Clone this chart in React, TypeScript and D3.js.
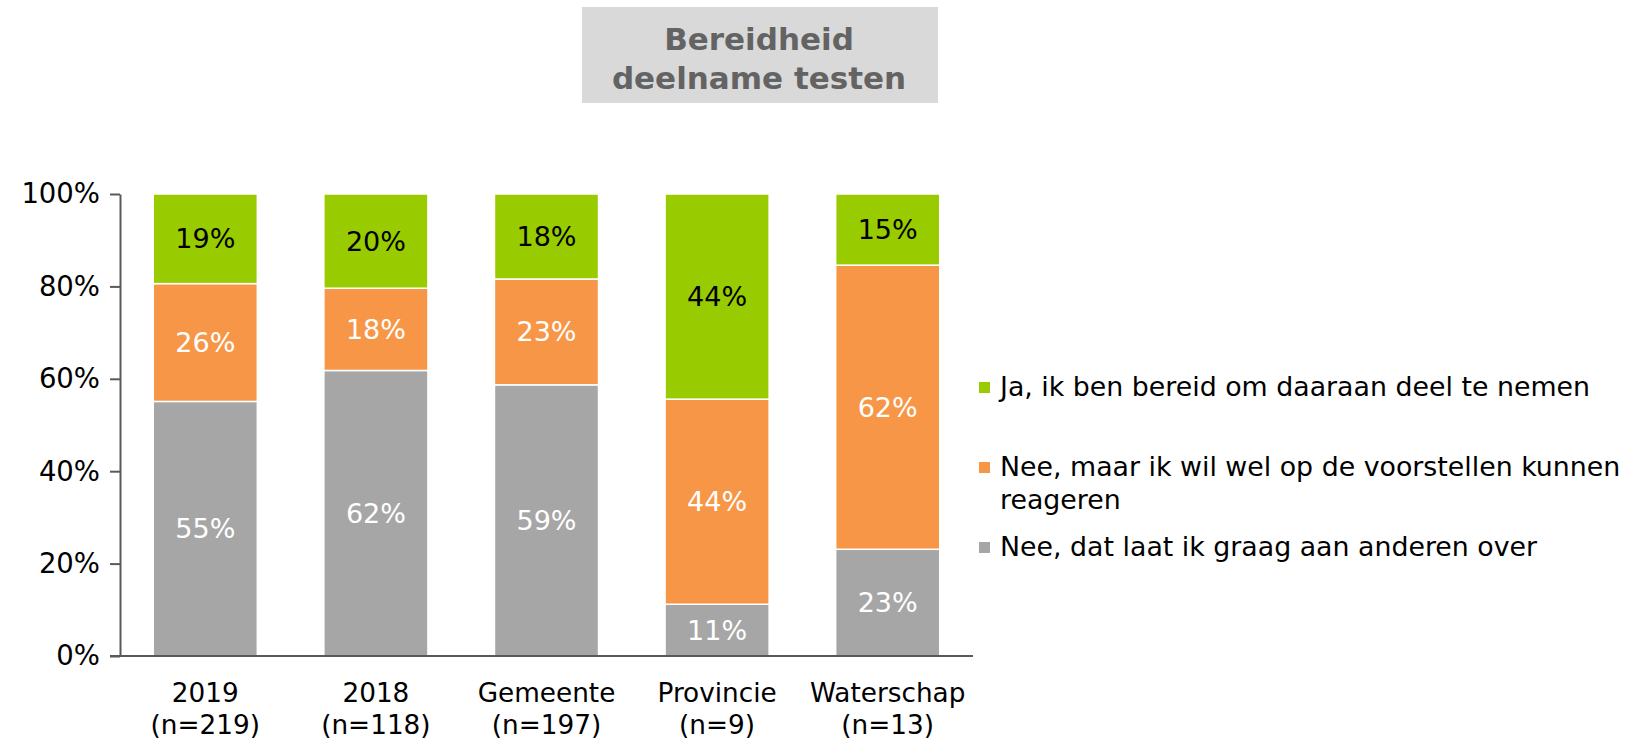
import { useRef, useEffect } from "react";
import * as d3 from "d3";

// chart data
const categories = ["2019", "2018", "Gemeente", "Provincie", "Waterschap"];
const sampleSizes = ["(n=219)", "(n=118)", "(n=197)", "(n=9)", "(n=13)"];
const notWilling = [55.1, 61.8, 58.7, 11.2, 23.1];
const wantToReact = [25.5, 17.8, 22.9, 44.4, 61.5];
const willing = [19.4, 20.4, 18.4, 44.4, 15.4];
const yTicks = [0, 20, 40, 60, 80, 100];
const seriesNames = [
  ["Ja, ik ben bereid om daaraan deel te nemen"],
  ["Nee, maar ik wil wel op de voorstellen kunnen", "reageren"],
  ["Nee, dat laat ik graag aan anderen over"],
];

const FONT = "'DejaVu Sans', Verdana, sans-serif";
const W = 1639;
const H = 741;

export default function App() {
  const gy = useRef<SVGGElement>(null);

  const x = d3.scaleBand<string>()
    .domain(categories)
    .range([120, 973])
    .paddingInner(0.39)
    .paddingOuter(0.195);
  const y = d3.scaleLinear([0, 100], [656, 194]);

  // stacked segments, bottom to top
  const stackSeries = [
    { values: notWilling, color: "#a6a6a6", text: "#ffffff" },
    { values: wantToReact, color: "#f79646", text: "#ffffff" },
    { values: willing, color: "#99cc00", text: "#000000" },
  ];

  useEffect(() => {
    const g = d3.select(gy.current);
    g.selectAll("*").remove();
    g.call(
      d3.axisLeft(y)
        .tickValues(yTicks)
        .tickSize(10)
        .tickSizeOuter(0)
        .tickPadding(10)
        .tickFormat((d) => `${d}%`)
    );
    g.select(".domain").attr("stroke", "#595959").attr("stroke-width", 2);
    g.selectAll(".tick line").attr("stroke", "#595959").attr("stroke-width", 2);
    g.selectAll(".tick text")
      .attr("fill", "#000")
      .attr("font-size", 27.5)
      .attr("font-family", FONT);
  }, []);

  const legendColors = ["#99cc00", "#f79646", "#a6a6a6"];
  const legendTop = [396, 476, 556];

  return (
    <svg
      width={W}
      height={H}
      style={{ position: "absolute", left: 0, top: 0, display: "block", background: "#fff" }}
      fontFamily={FONT}
    >
      {/* title */}
      <rect x={582} y={7} width={356} height={96} fill="#d9d9d9" />
      <text x={759} y={50} textAnchor="middle" fontSize={31} fontWeight="bold" fill="#636363">
        Bereidheid
      </text>
      <text x={759} y={89} textAnchor="middle" fontSize={31} fontWeight="bold" fill="#636363">
        deelname testen
      </text>

      {/* bars */}
      {categories.map((c, i) => {
        let acc = 0;
        return (
          <g key={c}>
            {stackSeries.map((s, k) => {
              const v = s.values[i];
              const y0 = y(acc);
              const y1 = y(acc + v);
              acc += v;
              return (
                <g key={k}>
                  <rect
                    x={x(c)}
                    y={y1}
                    width={x.bandwidth()}
                    height={y0 - y1}
                    fill={s.color}
                    stroke="#fff"
                    strokeWidth={1.5}
                  />
                  <text
                    x={(x(c) ?? 0) + x.bandwidth() / 2}
                    y={(y0 + y1) / 2}
                    textAnchor="middle"
                    dominantBaseline="central"
                    fontSize={27}
                    fill={s.text}
                  >
                    {Math.round(v)}%
                  </text>
                </g>
              );
            })}
          </g>
        );
      })}

      {/* axes */}
      <g ref={gy} transform="translate(120,0)" />
      <line x1={110} x2={973} y1={y(0)} y2={y(0)} stroke="#595959" strokeWidth={2} />
      {categories.map((c, i) => (
        <text
          key={c}
          x={(x(c) ?? 0) + x.bandwidth() / 2}
          textAnchor="middle"
          fontSize={26.3}
          fill="#000"
        >
          <tspan y={702}>{c}</tspan>
          <tspan x={(x(c) ?? 0) + x.bandwidth() / 2} y={734}>{sampleSizes[i]}</tspan>
        </text>
      ))}

      {/* legend */}
      {seriesNames.map((lines, i) => (
        <g key={i}>
          <rect x={979} y={legendTop[i] - 14} width={11} height={11} fill={legendColors[i]} />
          <text x={1000} fontSize={26.8} fill="#000">
            {lines.map((l, j) => (
              <tspan key={j} x={1000} y={legendTop[i] + j * 33}>{l}</tspan>
            ))}
          </text>
        </g>
      ))}
    </svg>
  );
}
